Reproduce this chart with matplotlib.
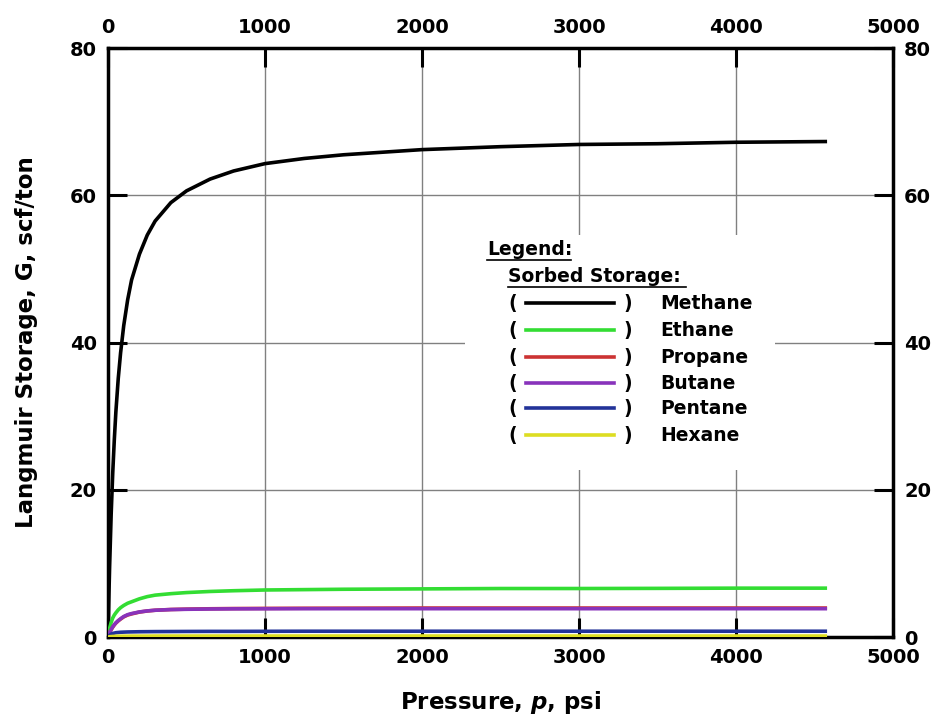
import matplotlib
matplotlib.use("Agg")
import matplotlib.pyplot as plt
from matplotlib.lines import Line2D

plt.rcParams['font.family'] = ['DejaVu Sans']
plt.rcParams['font.weight'] = 'bold'
plt.rcParams['mathtext.fontset'] = 'custom'
plt.rcParams['mathtext.it'] = 'DejaVu Sans:italic:bold'
plt.rcParams['mathtext.rm'] = 'DejaVu Sans:bold'

pressure = [0, 5, 10, 20, 30, 40, 50, 65, 80, 100, 125, 150, 200, 250, 300, 400, 500, 650, 800,
            1000, 1250, 1500, 2000, 2500, 3000, 3500, 4000, 4580]
methane = [0, 5.1, 9.5, 16.7, 22.3, 26.8, 30.6, 35.1, 38.6, 42.3, 45.8, 48.5, 52.0, 54.6, 56.5, 59.0,
           60.6, 62.2, 63.3, 64.3, 65.0, 65.5, 66.2, 66.6, 66.9, 67.0, 67.2, 67.3]
ethane = [0, 0.7, 1.2, 2.0, 2.6, 3.0, 3.3, 3.7, 4.0, 4.3, 4.6, 4.8, 5.2, 5.5, 5.7, 5.9,
          6.05, 6.2, 6.3, 6.4, 6.45, 6.5, 6.55, 6.6, 6.6, 6.62, 6.65, 6.65]
propane = [0, 0.35, 0.6, 1.0, 1.35, 1.65, 1.9, 2.2, 2.45, 2.75, 3.0, 3.15, 3.4, 3.55, 3.65, 3.75,
           3.8, 3.85, 3.88, 3.9, 3.92, 3.93, 3.95, 3.95, 3.95, 3.95, 3.95, 3.95]
butane = [0, 0.37, 0.63, 1.05, 1.4, 1.7, 1.95, 2.25, 2.5, 2.8, 3.05, 3.2, 3.42, 3.56, 3.65, 3.74,
          3.78, 3.82, 3.84, 3.85, 3.86, 3.86, 3.86, 3.86, 3.86, 3.86, 3.86, 3.86]
pentane = [0, 0.15, 0.25, 0.4, 0.5, 0.55, 0.6, 0.63, 0.66, 0.68, 0.7, 0.71, 0.73, 0.74, 0.75, 0.76,
           0.77, 0.78, 0.78, 0.79, 0.8, 0.8, 0.8, 0.8, 0.8, 0.8, 0.8, 0.8]
hexane = [0, 0.03, 0.05, 0.07, 0.09, 0.1, 0.11, 0.12, 0.12, 0.13, 0.13, 0.14, 0.14, 0.14, 0.15, 0.15,
          0.15, 0.15, 0.15, 0.15, 0.15, 0.15, 0.15, 0.15, 0.15, 0.15, 0.15, 0.15]

names = ["Methane", "Ethane", "Propane", "Butane", "Pentane", "Hexane"]
series = [methane, ethane, propane, butane, pentane, hexane]
colors = ["#000000", "#33dd33", "#cc3333", "#8833bb", "#223399", "#dddd22"]

x_ticks = [0, 1000, 2000, 3000, 4000, 5000]
y_ticks = [0, 20, 40, 60, 80]

fig = plt.figure(figsize=(9.41, 7.24), dpi=100)
ax = fig.add_axes([0.1148, 0.120, 0.8342, 0.8137])

for i in range(len(series)):
    ax.plot(pressure, series[i], color=colors[i], lw=2.6, solid_capstyle='butt', zorder=3)

ax.set_xlim(0, 5000)
ax.set_ylim(0, 80)
ax.set_xticks(x_ticks)
ax.set_yticks(y_ticks)
ax.grid(True, color='#808080', lw=1.0)
ax.set_axisbelow(True)
for s in ax.spines.values():
    s.set_linewidth(2.5)
ax.tick_params(direction='in', length=14, width=2.2, top=True, right=True,
               labeltop=True, labelright=True, labelsize=14, pad=8)
for lab in ax.get_xticklabels() + ax.get_yticklabels():
    lab.set_fontweight('bold')

ax.set_xlabel("Pressure, $p$, psi", fontsize=16.5, fontweight='bold', labelpad=16)
ax.set_ylabel("Langmuir Storage, G, scf/ton", fontsize=16.5, fontweight='bold', labelpad=23)

# Legend box
def ax_frac(px, py):
    return ((px - 108) / 785.0, (637 - py) / 589.0)

bx0, by0 = ax_frac(465, 470)
bx1, by1 = ax_frac(775, 235)
ax.add_patch(plt.Rectangle((bx0, by0), bx1 - bx0, by1 - by0, transform=ax.transAxes,
                           facecolor='white', edgecolor='none', zorder=2))

fs = 13.5
tx, ty = ax_frac(487, 249)
ax.text(tx, ty, "Legend:", transform=ax.transAxes, fontsize=fs, fontweight='bold', va='center', zorder=4)
ux0, uy = ax_frac(487, 260)
ux1, _ = ax_frac(571, 260)
ax.add_line(Line2D([ux0, ux1], [uy, uy], transform=ax.transAxes, color='black', lw=1.2, zorder=4))

tx, ty = ax_frac(508, 276)
ax.text(tx, ty, "Sorbed Storage:", transform=ax.transAxes, fontsize=fs, fontweight='bold', va='center', zorder=4)
ux0, uy = ax_frac(508, 287)
ux1, _ = ax_frac(686, 287)
ax.add_line(Line2D([ux0, ux1], [uy, uy], transform=ax.transAxes, color='black', lw=1.2, zorder=4))

row_y = [303, 330, 357, 383, 408, 435]
for name, col, py in zip(names, colors, row_y):
    xa, ya = ax_frac(513, py)
    ax.text(xa, ya, "(", transform=ax.transAxes, fontsize=fs, fontweight='bold', va='center', ha='center', zorder=4)
    xb, _ = ax_frac(628, py)
    ax.text(xb, ya, ")", transform=ax.transAxes, fontsize=fs, fontweight='bold', va='center', ha='center', zorder=4)
    l0, _ = ax_frac(526, py)
    l1, _ = ax_frac(614, py)
    ax.add_line(Line2D([l0, l1], [ya, ya], transform=ax.transAxes, color=col, lw=2.6, zorder=4))
    xn, _ = ax_frac(660, py)
    ax.text(xn, ya, name, transform=ax.transAxes, fontsize=fs, fontweight='bold', va='center', zorder=4)

fig.savefig("out.png", dpi=100)
